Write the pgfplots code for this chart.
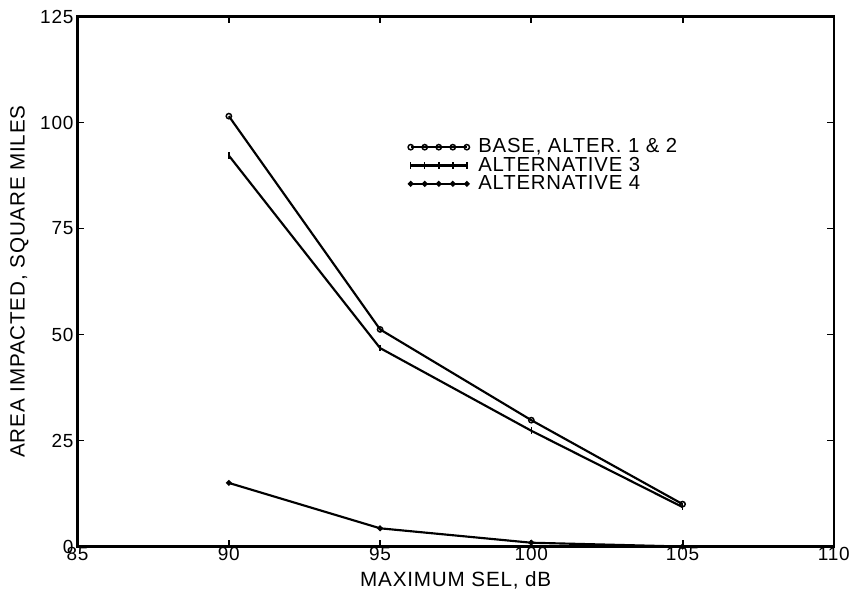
\documentclass[border=0pt]{standalone}
\usepackage{fontspec}
\setmainfont{Liberation Sans}[LetterSpace=4]
\usepackage{pgfplots}
\pgfplotsset{compat=1.18}
\begin{document}
\begin{tikzpicture}
\begin{axis}[
  name=ax,
  scale only axis,
  width=458pt, height=321pt,
  xmin=85, xmax=110, ymin=0, ymax=125,
  xtick={85,90,...,110}, ytick={0,25,...,125},
  tick align=inside,
  major tick length=4pt,
  axis line style={line width=1.5pt},
  every tick/.style={line width=1.1pt, black},
  /pgf/number format/assume math mode=true,
  tick label style={font=\fontsize{11.5}{12}\selectfont},
  xticklabel style={yshift=3pt},
  yticklabel style={xshift=1pt},
  xlabel={MAXIMUM SEL, dB},
  ylabel={AREA IMPACTED, SQUARE MILES},
  every axis x label/.style={at={(axis description cs:0.5,-0.064)}, anchor=center, font=\fontsize{12.5}{13}\selectfont},
  every axis y label/.style={at={(axis description cs:-0.077,0.5)}, anchor=center, rotate=90, font=\fontsize{12.5}{13}\selectfont},
  legend cell align=left,
  legend style={draw=none, fill=none, at={(axis cs:95.75,97.2)}, anchor=north west,
    row sep=0pt, column sep=0pt,
    nodes={inner sep=0pt, text height=8.9pt, text depth=2.2pt, font=\fontsize{12.3}{13}\selectfont}},
  legend image code/.code={%
    \draw[mark repeat=1] plot coordinates {(0pt,0pt) (8.5pt,0pt) (17pt,0pt) (25.5pt,0pt) (34pt,0pt)};
    \path[draw=none,fill=none] (0pt,-4pt) rectangle (41pt,4pt);},
]
\addplot[black, line width=1.3pt, mark=o, mark size=1.6pt, mark options={line width=0.9pt}]
  coordinates {(90,101.5) (95,51.2) (100,29.8) (105,10.0)};
\addlegendentry{BASE, ALTER. 1 \& 2}
\addplot[black, line width=1.3pt, mark=|, mark size=2pt, mark options={line width=0.9pt}]
  coordinates {(90,92.2) (95,46.8) (100,27.3) (105,9.3)};
\addlegendentry{ALTERNATIVE 3}
\addplot[black, line width=1.3pt, mark=*, mark size=1pt]
  coordinates {(90,15.0) (95,4.3) (100,0.9) (105,0.0)};
\addlegendentry{ALTERNATIVE 4}
\end{axis}
\pgfresetboundingbox
\path ([shift={(-47pt,-30pt)}]ax.south west) rectangle ([shift={(11pt,10pt)}]ax.north east);
\end{tikzpicture}
\end{document}
